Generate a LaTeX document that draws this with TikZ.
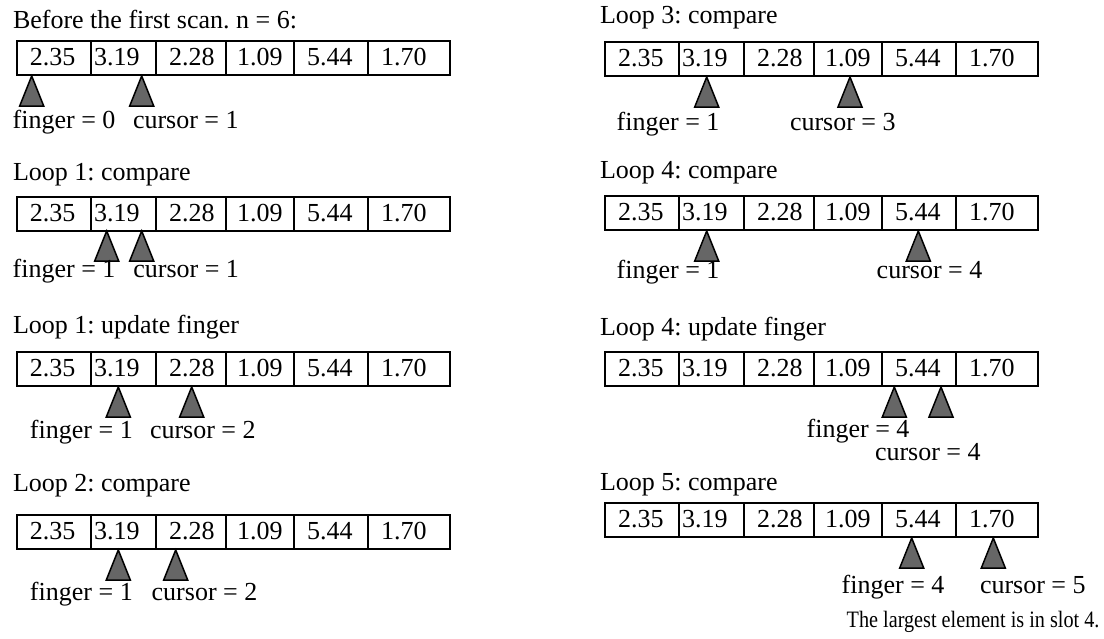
\documentclass[tikz,border=0pt]{standalone}
\usepackage{fontspec}
\setmainfont{Liberation Serif}
\newfontfamily\notefont[FakeStretch=0.86]{Liberation Serif}
\newcommand{\labfont}{\fontsize{26}{31}\selectfont}
\definecolor{ptrgray}{RGB}{102,102,102}
\tikzset{
  every node/.style={font=\labfont, inner sep=0pt, outer sep=0pt},
  cellbox/.style={draw=black, line width=1.5pt, minimum height=34pt, anchor=north west},
  val/.style={anchor=base west},
  lbl/.style={anchor=base west},
  ptr/.style={draw=black, line width=1.5pt, fill=ptrgray, line join=miter},
  pointer/.pic={\draw[ptr] (0,0) -- (-12,30) -- (12,30) -- cycle;}
}
% one row of six slots: #1 name, #2 left x, #3 top y
\newcommand{\slotrow}[3]{%
  \foreach \i/\off/\w/\toff/\v in {0/0/74/13/2.35, 1/74/65/77/3.19, 2/139/70/152/2.28,
                                   3/209/68/220/1.09, 4/277/74/290/5.44, 5/351/82/364/1.70}{%
    \node[cellbox, minimum width=\w pt] (#1-c\i) at ({#2+\off},{#3}) {};
    \node[val] (#1-v\i) at ({#2+\toff},{#3+24}) {\v};
  }%
}
\begin{document}
\frenchspacing
\begin{tikzpicture}[x=1pt, y=-1pt]
\useasboundingbox (0,0) rectangle (1104,638);

% ---- left column ----
\node[lbl] (tA) at (13,28) {Before the first scan. n = 6:};
\slotrow{A}{17}{41}
\pic (A-f) at (31.7,76) {pointer};
\pic (A-k) at (141.7,76) {pointer};
\node[lbl] (A-fl) at (12.7,128) {finger = 0};
\node[lbl] (A-kl) at (133,128) {cursor = 1};

\node[lbl] (tB) at (13,180) {Loop 1: compare};
\slotrow{B}{17}{197}
\pic (B-f) at (106.7,231) {pointer};
\pic (B-k) at (141.7,231) {pointer};
\node[lbl] (B-fl) at (12.7,277) {finger = 1};
\node[lbl] (B-kl) at (133.3,277) {cursor = 1};

\node[lbl] (tC) at (13,333) {Loop 1: update finger};
\slotrow{C}{17}{352}
\pic (C-f) at (118.3,387) {pointer};
\pic (C-k) at (191.7,387) {pointer};
\node[lbl] (C-fl) at (30,438) {finger = 1};
\node[lbl] (C-kl) at (150,438) {cursor = 2};

\node[lbl] (tD) at (13,491) {Loop 2: compare};
\slotrow{D}{17}{515}
\pic (D-f) at (118.3,550) {pointer};
\pic (D-k) at (175.7,550) {pointer};
\node[lbl] (D-fl) at (30,600) {finger = 1};
\node[lbl] (D-kl) at (151.7,600) {cursor = 2};

% ---- right column ----
\node[lbl] (tE) at (600,23) {Loop 3: compare};
\slotrow{E}{605}{42}
\pic (E-f) at (706.7,77) {pointer};
\pic (E-k) at (850,77) {pointer};
\node[lbl] (E-fl) at (616.7,130) {finger = 1};
\node[lbl] (E-kl) at (790,130) {cursor = 3};

\node[lbl] (tF) at (600,178) {Loop 4: compare};
\slotrow{F}{605}{196}
\pic (F-f) at (706.7,231) {pointer};
\pic (F-k) at (918.3,231) {pointer};
\node[lbl] (F-fl) at (616.7,278) {finger = 1};
\node[lbl] (F-kl) at (876.7,278) {cursor = 4};

\node[lbl] (tG) at (600,335) {Loop 4: update finger};
\slotrow{G}{605}{352}
\pic (G-f) at (894.3,387) {pointer};
\pic (G-k) at (941,387) {pointer};
\node[lbl] (G-fl) at (806.7,437) {finger = 4};
\node[lbl] (G-kl) at (875,460) {cursor = 4};

\node[lbl] (tH) at (600,490) {Loop 5: compare};
\slotrow{H}{605}{503}
\pic (H-f) at (911.7,538) {pointer};
\pic (H-k) at (993.3,538) {pointer};
\node[lbl] (H-fl) at (841.7,593) {finger = 4};
\node[lbl] (H-kl) at (980,593) {cursor = 5};

\node[lbl, font={\notefont\fontsize{23.5}{28}\selectfont}] (res) at (846.7,627) {The largest element is in slot 4.};
\end{tikzpicture}
\end{document}
